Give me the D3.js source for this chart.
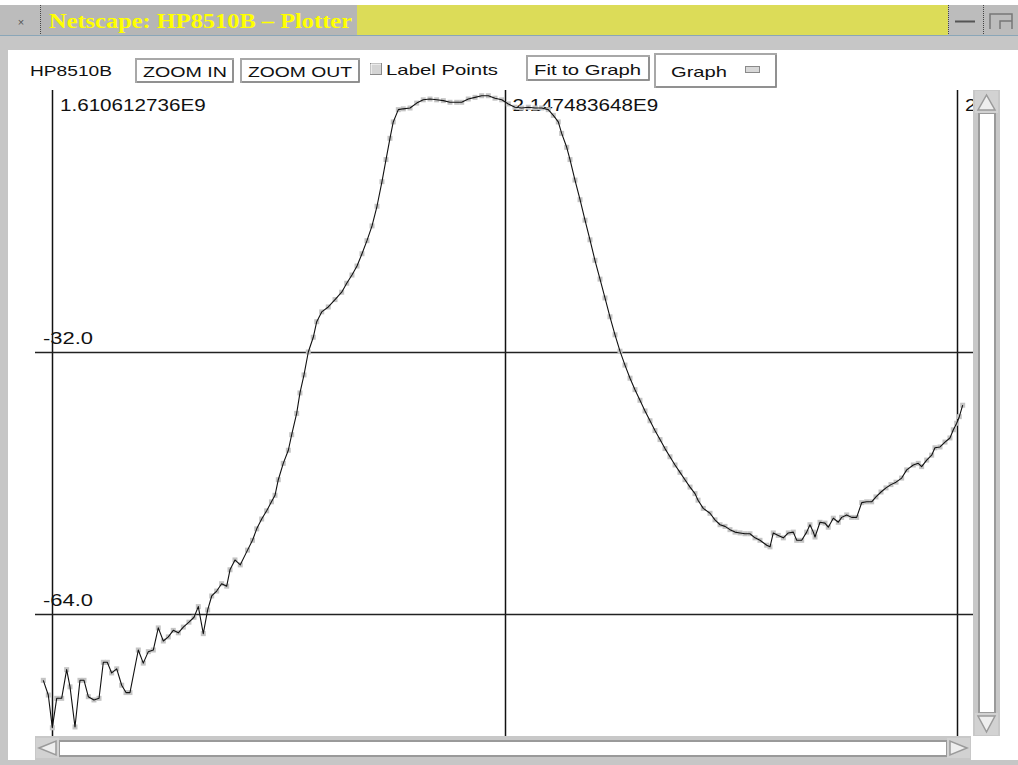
<!DOCTYPE html>
<html>
<head>
<meta charset="utf-8">
<script src="https://cdnjs.cloudflare.com/ajax/libs/d3/7.8.5/d3.min.js"></script>
<style>
  body { margin: 0; background: #fff; }
</style>
</head>
<body>
<div id="chart-area"></div>
<script>
// sweep: frequency (MHz) and level (dB)
var freqMHz = [1600.3,1606.2,1611.0,1616.2,1622.1,1628.0,1632.0,1637.9,1643.8,1648.6,
  1653.7,1660.4,1666.4,1671.5,1676.2,1681.4,1687.4,1693.3,1698.4,1703.1,
  1713.0,1718.9,1724.9,1730.8,1736.7,1742.7,1748.6,1754.5,1760.5,1766.4,
  1773.1,1779.1,1784.2,1790.1,1795.3,1800.1,1806.0,1811.9,1817.9,1821.8,
  1827.7,1834.0,1842.6,1848.5,1853.5,1859.4,1865.3,1871.0,1875.2,1879.1,
  1885.0,1891.0,1895.0,1900.9,1904.8,1909.6,1914.7,1920.6,1924.7,1930.6,
  1938.4,1946.4,1954.3,1960.3,1966.5,1972.5,1978.4,1984.3,1990.3,1996.2,
  2002.1,2006.9,2011.6,2015.5,2021.5,2027.4,2035.4,2043.3,2051.1,2059.1,
  2067.0,2074.9,2082.8,2090.8,2096.7,2104.5,2112.5,2120.4,2128.3,2136.2,
  2144.2,2152.0,2159.9,2167.9,2175.7,2183.7,2191.6,2199.4,2205.4,2211.3,
  2215.3,2221.3,2225.2,2231.1,2237.1,2243.0,2248.9,2254.8,2260.8,2266.7,
  2272.6,2278.6,2284.5,2290.4,2296.4,2302.3,2308.2,2314.2,2320.1,2326.0,
  2332.0,2337.9,2343.8,2349.8,2355.7,2361.6,2367.6,2373.5,2377.1,2383.3,
  2391.3,2397.2,2403.2,2409.1,2415.0,2421.0,2426.9,2432.8,2438.7,2444.7,
  2450.6,2458.6,2462.5,2466.4,2472.3,2478.3,2484.2,2490.1,2494.2,2500.1,
  2506.0,2509.9,2513.9,2515.9,2521.8,2527.7,2531.6,2537.6,2543.5,2547.5,
  2553.5,2559.4,2565.3,2571.3,2577.2,2583.1,2588.2,2594.2,2600.1,2606.0,
  2612.0,2618.7,2624.7,2632.5,2638.4,2642.4,2648.4,2654.3,2658.2,2664.2,
  2670.1,2676.0,2680.0,2684.0,2687.1,2691.1];

var levelDb = [-72.1,-73.9,-77.9,-74.3,-74.3,-70.8,-72.9,-77.8,-72.1,-72.1,
  -74.1,-74.5,-74.3,-69.9,-69.9,-71.2,-70.7,-72.7,-73.6,-73.6,
  -68.4,-70.0,-68.6,-68.4,-65.7,-67.3,-66.8,-66.0,-66.3,-65.6,
  -65.0,-64.4,-63.1,-66.4,-63.5,-61.8,-61.2,-60.3,-60.6,-58.6,
  -57.4,-58.0,-56.2,-55.0,-53.6,-52.4,-51.4,-50.3,-49.5,-47.6,
  -45.6,-44.0,-42.1,-39.5,-37.0,-34.8,-32.0,-30.2,-28.3,-27.1,
  -26.5,-25.6,-24.7,-23.6,-22.6,-21.5,-20.0,-18.4,-16.6,-14.2,
  -11.2,-8.5,-5.9,-3.9,-2.4,-2.3,-2.2,-1.6,-1.2,-1.1,
  -1.2,-1.3,-1.5,-1.5,-1.5,-1.1,-0.9,-0.7,-0.7,-1.0,
  -1.2,-1.7,-2.1,-2.2,-2.1,-2.2,-2.2,-2.4,-3.1,-3.9,
  -5.3,-7.0,-8.5,-11.0,-13.4,-15.9,-18.3,-20.8,-23.1,-25.4,
  -27.7,-29.9,-31.9,-33.6,-35.2,-36.6,-37.9,-39.2,-40.4,-41.6,
  -42.7,-43.8,-44.8,-45.8,-46.7,-47.6,-48.5,-49.3,-50.1,-51.1,
  -51.7,-52.5,-53.1,-53.3,-53.7,-54.0,-54.1,-54.2,-54.2,-54.7,
  -55.0,-55.6,-55.8,-54.1,-54.4,-54.7,-54.1,-54.0,-55.0,-55.0,
  -54.0,-53.1,-54.0,-54.6,-52.8,-52.9,-53.4,-52.3,-52.8,-52.2,
  -51.9,-52.2,-52.2,-50.4,-50.3,-50.3,-49.7,-49.1,-48.6,-48.2,
  -47.9,-47.4,-46.4,-45.8,-45.6,-46.0,-45.2,-44.6,-43.7,-43.6,
  -43.0,-42.5,-41.5,-40.7,-39.9,-38.5];

var xTicks = [1610612736, 2147483648, 2684354560];
var xTickLabels = ["1.610612736E9", "2.147483648E9", "2.68435456E9"];
var yTicks = [-32, -64];
var yTickLabels = ["-32.0", "-64.0"];

var data = freqMHz.map(function(f, i) { return { f: f * 1e6, v: levelDb[i] }; });

var W = 1018, H = 765;
var plot = { left: 35, right: 973, top: 90, bottom: 736 };
var sans = "'Liberation Sans', Arial, sans-serif";

var svg = d3.select("#chart-area")
  .append("svg")
  .attr("width", W)
  .attr("height", H)
  .style("font-family", sans);

// ---- window frame ----
svg.append("rect").attr("width", W).attr("height", H).attr("fill", "#c6c6c6");
svg.append("rect").attr("width", W).attr("height", 5).attr("fill", "#fff");

var title = svg.append("g");
title.append("rect").attr("x", 0).attr("y", 5).attr("width", 41).attr("height", 30).attr("fill", "#bcbcbc");
title.append("rect").attr("x", 41).attr("y", 5).attr("width", 316).attr("height", 30).attr("fill", "#b6b6b6");
title.append("rect").attr("x", 357).attr("y", 5).attr("width", 591).attr("height", 30).attr("fill", "#dcdc58");
title.append("rect").attr("x", 948).attr("y", 5).attr("width", 70).attr("height", 30).attr("fill", "#bcbcbc");
[40, 948, 983].forEach(function(xx) {
  title.append("line").attr("x1", xx + 0.5).attr("x2", xx + 0.5).attr("y1", 5).attr("y2", 35)
    .attr("stroke", "#444").attr("stroke-dasharray", "1,1");
});
title.append("text").attr("x", 21).attr("y", 26).attr("text-anchor", "middle")
  .attr("font-size", 11).attr("fill", "#555").text("×");
title.append("text")
  .attr("x", 49).attr("y", 28)
  .style("font-family", "'Liberation Serif', 'DejaVu Serif', serif")
  .attr("font-weight", "bold").attr("font-size", 21)
  .attr("fill", "#ffff00")
  .attr("textLength", 303).attr("lengthAdjust", "spacingAndGlyphs")
  .text("Netscape: HP8510B – Plotter");
title.append("line").attr("x1", 955).attr("x2", 975).attr("y1", 21.5).attr("y2", 21.5).attr("stroke", "#555").attr("stroke-width", 2);
title.append("path").attr("d", "M990,29 V14 H1012 V29 M1000,29 V21 H1012").attr("fill", "none").attr("stroke", "#777").attr("stroke-width", 1.5);
svg.append("line").attr("x1", 0).attr("x2", W).attr("y1", 35.5).attr("y2", 35.5).attr("stroke", "#8aa6b8");

// content area
svg.append("rect").attr("x", 8).attr("y", 50).attr("width", W - 8).attr("height", 710).attr("fill", "#fff");

// ---- control row ----
var ctl = svg.append("g").attr("font-size", 15).attr("fill", "#111");

function label(x, y, w, s) {
  ctl.append("text").attr("x", x).attr("y", y)
    .attr("textLength", w).attr("lengthAdjust", "spacingAndGlyphs").text(s);
}
function button(x, y, w, h) {
  ctl.append("rect").attr("x", x + 1).attr("y", y + 1).attr("width", w - 2).attr("height", h - 2)
    .attr("fill", "#fff").attr("stroke", "#a8a8a8").attr("stroke-width", 2);
  ctl.append("path").attr("d", "M" + (x + 2) + "," + (y + h - 1) + " H" + (x + w - 1) + " V" + (y + 2))
    .attr("fill", "none").attr("stroke", "#7a7a7a").attr("stroke-width", 1);
}

label(30, 76, 82, "HP8510B");
button(135, 58, 99, 25);
label(143, 77, 84, "ZOOM IN");
button(240, 58, 120, 25);
label(248, 77, 104, "ZOOM OUT");
ctl.append("rect").attr("x", 370.5).attr("y", 63.5).attr("width", 11).attr("height", 11)
  .attr("fill", "#d4d4d4").attr("stroke", "#8a8a8a");
ctl.append("path").attr("d", "M371,74 V64 H381").attr("fill", "none").attr("stroke", "#fff");
label(386, 75, 112, "Label Points");
button(526, 55, 124, 26);
label(534, 75, 107, "Fit to Graph");
button(654, 53, 123, 35);
label(671, 77, 56, "Graph");
ctl.append("rect").attr("x", 745.5).attr("y", 66.5).attr("width", 14).attr("height", 6)
  .attr("fill", "#d8d8d8").attr("stroke", "#8a8a8a");

// ---- plot ----
var x = d3.scaleLinear().domain([1.590443e9, 2.703334e9]).range([plot.left, plot.right]);
var y = d3.scaleLinear().domain([0, -79]).range([plot.top, 736.8]);

svg.append("clipPath").attr("id", "clip")
  .append("rect").attr("x", plot.left).attr("y", plot.top)
  .attr("width", plot.right - plot.left).attr("height", plot.bottom - plot.top);

var g = svg.append("g").attr("clip-path", "url(#clip)");

g.selectAll(".vgrid").data(xTicks).enter().append("line")
  .attr("x1", function(d) { return Math.round(x(d)) + 0.5; })
  .attr("x2", function(d) { return Math.round(x(d)) + 0.5; })
  .attr("y1", plot.top).attr("y2", plot.bottom)
  .attr("stroke", "#111").attr("stroke-width", 1.5);

g.selectAll(".hgrid").data(yTicks).enter().append("line")
  .attr("x1", plot.left).attr("x2", plot.right)
  .attr("y1", function(d) { return Math.round(y(d)) + 0.5; })
  .attr("y2", function(d) { return Math.round(y(d)) + 0.5; })
  .attr("stroke", "#222").attr("stroke-width", 1.3);

// tick labels sit inside the plot; the last one is cut by the plot edge as in the applet
g.selectAll(".xlab").data(xTicks).enter().append("text")
  .attr("x", function(d) { return x(d) + 8; })
  .attr("y", 111)
  .attr("font-size", 16).attr("fill", "#111")
  .attr("textLength", function(d, i) { return xTickLabels[i].length * 11.2; })
  .attr("lengthAdjust", "spacingAndGlyphs")
  .text(function(d, i) { return xTickLabels[i]; });

g.selectAll(".ylab").data(yTicks).enter().append("text")
  .attr("x", 43)
  .attr("y", function(d) { return y(d) - 8; })
  .attr("font-size", 16).attr("fill", "#111")
  .attr("textLength", 50).attr("lengthAdjust", "spacingAndGlyphs")
  .text(function(d, i) { return yTickLabels[i]; });

g.selectAll(".pt").data(data).enter().append("rect")
  .attr("x", function(d) { return x(d.f) - 2.5; })
  .attr("y", function(d) { return y(d.v) - 2.5; })
  .attr("width", 5).attr("height", 5)
  .attr("fill", "#c4c4c4");

var line = d3.line()
  .x(function(d) { return x(d.f); })
  .y(function(d) { return y(d.v); });

g.append("path")
  .datum(data)
  .attr("fill", "none")
  .attr("stroke", "#111")
  .attr("stroke-width", 1.1)
  .attr("stroke-linejoin", "round")
  .attr("d", line);

// ---- scrollbars ----
var sb = svg.append("g");
function arrowBox(bx, by, bw, bh, pts) {
  sb.append("rect").attr("x", bx).attr("y", by).attr("width", bw).attr("height", bh).attr("fill", "#d2d2d2");
  sb.append("polygon").attr("points", pts).attr("fill", "#eee").attr("stroke", "#9a9a9a").attr("stroke-width", 1.5);
}
// vertical
sb.append("rect").attr("x", 973).attr("y", 90).attr("width", 27).attr("height", 646).attr("fill", "#c8c8c8");
sb.append("rect").attr("x", 979).attr("y", 113).attr("width", 16).attr("height", 600)
  .attr("fill", "#fff").attr("stroke", "#9a9a9a").attr("stroke-width", 2);
arrowBox(975, 91, 23, 22, "986.5,95 978,110 995,110");
arrowBox(975, 713, 23, 22, "978,716 995,716 986.5,732");
// horizontal
sb.append("rect").attr("x", 35).attr("y", 736).attr("width", 936).attr("height", 24).attr("fill", "#c8c8c8");
sb.append("rect").attr("x", 59).attr("y", 741).attr("width", 888).attr("height", 15)
  .attr("fill", "#fff").attr("stroke", "#9a9a9a").attr("stroke-width", 2);
arrowBox(36, 738, 23, 20, "39,748 56,741 56,755");
arrowBox(947, 738, 23, 20, "967,748 950,741 950,755");
</script>
</body>
</html>
